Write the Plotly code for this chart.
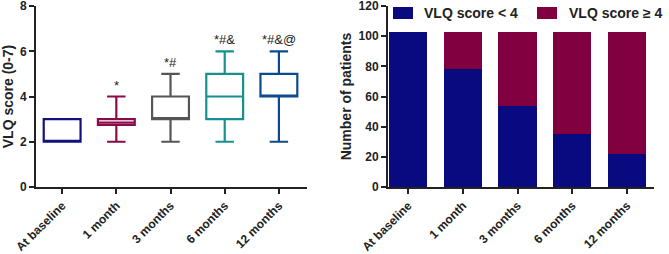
import plotly.graph_objects as go

categories = ["At baseline", "1 month", "3 months", "6 months", "12 months"]

# Left panel: box statistics of VLQ score
box_min = [2, 2, 2, 2, 2]
box_q1 = [2, 2.75, 3, 3, 4]
box_median = [2, 2.85, 3, 4, 4]
box_q3 = [3, 3.0, 4, 5, 5]
box_max = [3, 4, 5, 6, 6]
box_colors = ["#10107f", "#8a0a4a", "#555555", "#17918f", "#0b4a8c"]
significance = ["", "*", "*#", "*#&", "*#&@"]

# Right panel: number of patients
series_names = ["VLQ score < 4", "VLQ score \u2265 4"]
series_colors = ["#0a0a80", "#800040"]
below4 = [103, 78, 54, 35, 22]
atleast4 = [0, 25, 49, 68, 81]

FONT = "Liberation Sans, Arial, sans-serif"
AX = "#222222"
W, H = 669, 254

fig = go.Figure()

for i, c in enumerate(categories):
    fig.add_trace(go.Box(
        x=[c], q1=[box_q1[i]], median=[box_median[i]], q3=[box_q3[i]],
        lowerfence=[box_min[i]], upperfence=[box_max[i]],
        line=dict(color=box_colors[i], width=2.2), fillcolor="white",
        width=0.68, whiskerwidth=0.5, boxpoints=False, showlegend=False,
        xaxis="x", yaxis="y", hoverinfo="skip"))
    if significance[i]:
        fig.add_annotation(x=c, y=box_max[i], text=significance[i], xref="x", yref="y",
                           yanchor="bottom", yshift=2, showarrow=False,
                           font=dict(family=FONT, size=13, color="#222"))

for name, vals, col in zip(series_names, [below4, atleast4], series_colors):
    fig.add_trace(go.Bar(x=categories, y=vals, name=name, marker_color=col,
                         marker_line_width=0, width=0.7, xaxis="x2", yaxis="y2",
                         showlegend=False))

# legend drawn as swatches + labels (pixel layout of the reference legend)
legend_px = [(393, 413, 422), (537, 557, 567)]
for (x0, x1, xt), name, col in zip(legend_px, series_names, series_colors):
    fig.add_shape(type="rect", xref="paper", yref="paper",
                  x0=x0 / W, x1=x1 / W, y0=1 - 19 / H, y1=1 - 7 / H,
                  fillcolor=col, line_width=0)
    fig.add_annotation(xref="paper", yref="paper", x=xt / W, y=1 - 13 / H,
                       xanchor="left", yanchor="middle", text=name, showarrow=False,
                       font=dict(family=FONT, size=14, color="#222", weight="bold"))

axis_common = dict(showline=True, linecolor=AX, linewidth=2, ticks="outside", tickcolor=AX,
                   tickwidth=2, ticklen=5, showgrid=False, zeroline=False, automargin=False,
                   ticklabeloverflow="allow")
xfont = dict(family=FONT, size=12, color="#222", weight="bold")
yfont = dict(family=FONT, size=12, color="#222", weight="bold")
tfont = dict(family=FONT, size=14, color="#222", weight="bold")

fig.update_layout(
    template="none",
    width=W, height=H, margin=dict(l=0, r=0, t=0, b=0),
    plot_bgcolor="white", paper_bgcolor="white", barmode="stack",
    font=dict(family=FONT, color="#222"), showlegend=False,
    xaxis=dict(domain=[0.054, 0.459], range=[-0.48, 4.52], tickangle=-45,
               tickfont=xfont, **axis_common),
    yaxis=dict(domain=[0.264, 0.976], range=[0, 8], tickvals=[0, 2, 4, 6, 8],
               title=dict(text="VLQ score (0-7)", font=tfont, standoff=3),
               tickfont=yfont, **axis_common),
    xaxis2=dict(domain=[0.58, 0.978], range=[-0.37, 4.5], tickangle=-45, anchor="y2",
                tickfont=xfont, **axis_common),
    yaxis2=dict(domain=[0.264, 0.976], range=[0, 120], tickvals=[0, 20, 40, 60, 80, 100, 120],
                anchor="x2",
                title=dict(text="Number of patients", font=tfont, standoff=4),
                tickfont=yfont, **axis_common),
)

fig.write_html("out.html", config={"displayModeBar": False},
               post_script="document.body.style.margin='0';")
